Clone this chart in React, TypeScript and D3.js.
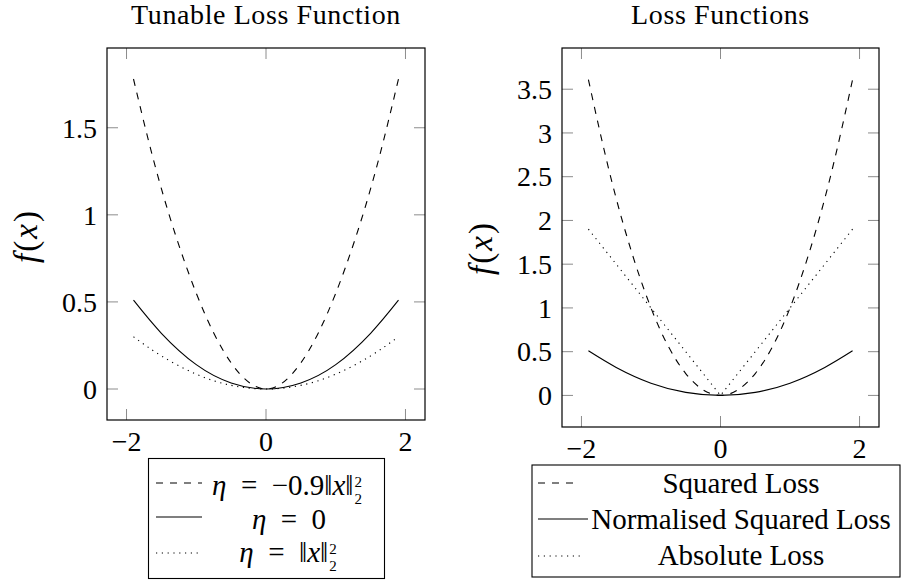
import React, { useEffect, useRef } from 'react';
import * as d3 from 'd3';

// sample positions along x
const xs = [-1.9, -1.5, -1, -0.5, 0, 0.5, 1, 1.5, 1.9];

// left panel: tunable loss
const tunableNeg = [1.78, 1.15, 0.55, 0.15, 0, 0.15, 0.55, 1.15, 1.78];
const tunableZero = [0.51, 0.32, 0.14, 0.035, 0, 0.035, 0.14, 0.32, 0.51];
const tunablePos = [0.3, 0.19, 0.085, 0.021, 0, 0.021, 0.085, 0.19, 0.3];

// right panel: loss functions
const squaredLoss = [3.61, 2.25, 1, 0.25, 0, 0.25, 1, 2.25, 3.61];
const normalisedLoss = [0.51, 0.32, 0.14, 0.035, 0, 0.035, 0.14, 0.32, 0.51];
const absoluteLoss = [1.9, 1.5, 1, 0.5, 0, 0.5, 1, 1.5, 1.9];

const xTicks = [-2, 0, 2];
const xTickLabels = ['\u22122', '0', '2'];
const leftYTicks = [0, 0.5, 1, 1.5];
const leftYTickLabels = ['0', '0.5', '1', '1.5'];
const rightYTicks = [0, 0.5, 1, 1.5, 2, 2.5, 3, 3.5];
const rightYTickLabels = ['0', '0.5', '1', '1.5', '2', '2.5', '3', '3.5'];

const FONT = '"Liberation Serif", "Times New Roman", serif';
const DASH = '7,7';
const DOT = '1.2,4.6';

type Series = { values: number[]; dash: string | null; linear?: boolean };

const App = () => {
  const ref = useRef<SVGSVGElement | null>(null);

  useEffect(() => {
    if (!ref.current) return;
    const svg = d3.select(ref.current);
    svg.selectAll('*').remove();

    const drawPanel = (
      box: { l: number; r: number; t: number; b: number },
      yDomain: [number, number],
      yTicks: number[],
      yTickLabels: string[],
      title: string,
      series: Series[],
      labelX: number,
      labelY: number
    ) => {
      const x = d3.scaleLinear().domain([-2.28, 2.28]).range([box.l, box.r]);
      const y = d3.scaleLinear().domain(yDomain).range([box.b, box.t]);
      const g = svg.append('g');

      g.append('text')
        .attr('x', (box.l + box.r) / 2)
        .attr('y', 24)
        .attr('text-anchor', 'middle')
        .style('font-family', FONT)
        .style('font-size', '28px')
        .style('letter-spacing', '0.6px')
        .text(title);

      // ticks on all four sides, pointing inward
      xTicks.forEach((t, i) => {
        const px = x(t);
        g.append('line').attr('x1', px).attr('x2', px).attr('y1', box.b).attr('y2', box.b - 11)
          .attr('stroke', '#8c8c8c').attr('stroke-width', 1);
        g.append('line').attr('x1', px).attr('x2', px).attr('y1', box.t).attr('y2', box.t + 11)
          .attr('stroke', '#8c8c8c').attr('stroke-width', 1);
        g.append('text')
          .attr('x', px).attr('y', box.b + 31)
          .attr('text-anchor', 'middle')
          .style('font-family', FONT).style('font-size', '28px')
          .text(xTickLabels[i]);
      });
      yTicks.forEach((t, i) => {
        const py = y(t);
        g.append('line').attr('x1', box.l).attr('x2', box.l + 11).attr('y1', py).attr('y2', py)
          .attr('stroke', '#8c8c8c').attr('stroke-width', 1);
        g.append('line').attr('x1', box.r).attr('x2', box.r - 11).attr('y1', py).attr('y2', py)
          .attr('stroke', '#8c8c8c').attr('stroke-width', 1);
        g.append('text')
          .attr('x', box.l - 10).attr('y', py)
          .attr('dy', '0.35em')
          .attr('text-anchor', 'end')
          .style('font-family', FONT).style('font-size', '28px')
          .text(yTickLabels[i]);
      });

      const line = d3.line<number>().x((_, i) => x(xs[i])).y(d => y(d));
      series.forEach(s => {
        g.append('path')
          .attr('d', line.curve(s.linear ? d3.curveLinear : d3.curveNatural)(s.values) || '')
          .attr('fill', 'none')
          .attr('stroke', '#000')
          .attr('stroke-width', 1.1)
          .attr('stroke-dasharray', s.dash);
      });

      g.append('rect')
        .attr('x', box.l).attr('y', box.t)
        .attr('width', box.r - box.l).attr('height', box.b - box.t)
        .attr('fill', 'none').attr('stroke', '#000').attr('stroke-width', 1.2);

      const lab = g.append('text')
        .attr('transform', `translate(${labelX},${labelY}) rotate(-90)`)
        .attr('text-anchor', 'middle')
        .style('font-family', FONT).style('font-size', '33px')
        .style('letter-spacing', '2px');
      lab.append('tspan').style('font-style', 'italic').text('f');
      lab.append('tspan').text('(');
      lab.append('tspan').style('font-style', 'italic').text('x');
      lab.append('tspan').text(')');
    };

    drawPanel({ l: 107, r: 425, t: 48, b: 420 }, [-0.178, 1.958], leftYTicks, leftYTickLabels,
      'Tunable Loss Function',
      [
        { values: tunableNeg, dash: DASH },
        { values: tunableZero, dash: null },
        { values: tunablePos, dash: DOT },
      ], 37, 236);

    drawPanel({ l: 562, r: 879, t: 48, b: 427 }, [-0.361, 3.971], rightYTicks, rightYTickLabels,
      'Loss Functions',
      [
        { values: squaredLoss, dash: DASH },
        { values: normalisedLoss, dash: null },
        { values: absoluteLoss, dash: DOT, linear: true },
      ], 492, 248);

    // legend helpers
    const legendSample = (g: any, x1: number, x2: number, yy: number, dash: string | null) => {
      g.append('line').attr('x1', x1).attr('x2', x2).attr('y1', yy).attr('y2', yy)
        .attr('stroke', '#000').attr('stroke-width', 1.1).attr('stroke-dasharray', dash);
    };

    // left legend
    const lg = svg.append('g');
    lg.append('rect').attr('x', 148.5).attr('y', 458.5).attr('width', 236).attr('height', 120)
      .attr('fill', '#fff').attr('stroke', '#000').attr('stroke-width', 1.1);
    legendSample(lg, 156, 202, 483, DASH);
    legendSample(lg, 156, 202, 517, null);
    legendSample(lg, 156, 202, 553, DOT);

    // math label in a single text element; stacked ^2 and _2 through tspan shifts
    const mathLabel = (cx: number, base: number, parts: { t: string; it?: boolean }[], supsub: boolean) => {
      const t = lg.append('text').attr('x', cx).attr('y', base)
        .attr('text-anchor', 'middle')
        .style('font-family', FONT).style('font-size', '29px');
      parts.forEach(p => {
        const sp = t.append('tspan').text(p.t);
        if (p.it) sp.style('font-style', 'italic');
      });
      if (supsub) {
        t.append('tspan').attr('dx', 1).attr('dy', -8).style('font-size', '15px').text('2');
        t.append('tspan').attr('dx', -7.5).attr('dy', 17).style('font-size', '15px').text('2');
      }
    };
    mathLabel(287, 495, [{ t: '\u03B7', it: true }, { t: '\u2002=\u2002\u22120.9\u2016' }, { t: 'x', it: true }, { t: '\u2016' }], true);
    mathLabel(289, 529, [{ t: '\u03B7', it: true }, { t: '\u2002=\u20020' }], false);
    mathLabel(288, 562, [{ t: '\u03B7', it: true }, { t: '\u2002=\u2002\u2016' }, { t: 'x', it: true }, { t: '\u2016' }], true);

    // right legend
    const rg = svg.append('g');
    rg.append('rect').attr('x', 532).attr('y', 465).attr('width', 368).attr('height', 112)
      .attr('fill', '#fff').attr('stroke', '#000').attr('stroke-width', 1.1);
    legendSample(rg, 538, 580, 483, DASH);
    legendSample(rg, 538, 588, 519, null);
    legendSample(rg, 538, 583, 556, DOT);
    const rLabels = ['Squared Loss', 'Normalised Squared Loss', 'Absolute Loss'];
    const rBase = [493, 529, 565];
    rLabels.forEach((s, i) => {
      rg.append('text').attr('x', 741).attr('y', rBase[i]).attr('text-anchor', 'middle')
        .style('font-family', FONT).style('font-size', '29px').text(s);
    });
  }, []);

  return (
    <svg ref={ref} width={902} height={583}
      style={{ position: 'absolute', left: 0, top: 0, background: '#fff', display: 'block' }} />
  );
};

export default App;
